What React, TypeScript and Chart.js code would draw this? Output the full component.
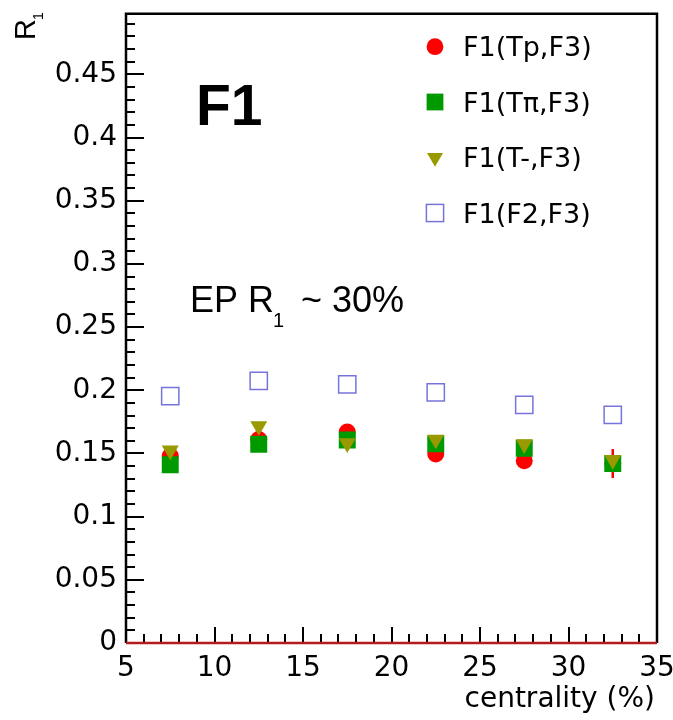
import React, { useEffect, useRef } from 'react';
import { Chart, registerables } from 'chart.js';

Chart.register(...registerables);

// ---- data ----
const centrality = [7.5, 12.5, 17.5, 22.5, 27.5, 32.5];
const tpValues = [0.148, 0.161, 0.167, 0.1495, 0.1442, 0.142];
const tpErrors = [0.004, 0.004, 0.004, 0.004, 0.004, 0.0115];
const tpiValues = [0.1411, 0.1572, 0.1606, 0.1576, 0.1542, 0.142];
const tminusValues = [0.1524, 0.1717, 0.1582, 0.161, 0.1574, 0.1449];
const f2Values = [0.1953, 0.2075, 0.2047, 0.1984, 0.1884, 0.1806];
const seriesLabels = ['F1(Tp,F3)', 'F1(T\u03c0,F3)', 'F1(T-,F3)', 'F1(F2,F3)'];
const xTicks = [5, 10, 15, 20, 25, 30, 35];
const yTicks = [0, 0.05, 0.1, 0.15, 0.2, 0.25, 0.3, 0.35, 0.4, 0.45];
const xTitle = 'centrality (%)';
const yTitle = 'R';
const yTitleSub = '1';
const panelLabel = 'F1';
const noteMain = 'EP R';
const noteSub = '1';
const noteTail = '~ 30%';

const RED = '#ff0000';
const GREEN = '#009a00';
const OLIVE = '#999900';
const BLUE = '#7474dc';
const TICK_FONT = "'DejaVu Sans'";

function drawMarker(ctx: CanvasRenderingContext2D, kind: number, x: number, y: number) {
  ctx.save();
  if (kind === 0) {
    ctx.fillStyle = RED;
    ctx.beginPath();
    ctx.arc(x, y, 8.4, 0, Math.PI * 2);
    ctx.fill();
  } else if (kind === 1) {
    ctx.fillStyle = GREEN;
    ctx.fillRect(x - 8.4, y - 8.4, 16.8, 16.8);
  } else if (kind === 2) {
    const r = 9.2;
    ctx.fillStyle = OLIVE;
    ctx.beginPath();
    ctx.moveTo(x - r * 0.866, y - r * 0.5);
    ctx.lineTo(x + r * 0.866, y - r * 0.5);
    ctx.lineTo(x, y + r);
    ctx.closePath();
    ctx.fill();
  } else {
    ctx.strokeStyle = BLUE;
    ctx.lineWidth = 1.5;
    ctx.strokeRect(x - 8.6, y - 8.6, 17.2, 17.2);
  }
  ctx.restore();
}

const decorPlugin = {
  id: 'decor',
  beforeDatasetsDraw(chart: any) {
    const ctx = chart.ctx as CanvasRenderingContext2D;
    const xs = chart.scales.x;
    const ys = chart.scales.y;
    ctx.save();
    ctx.strokeStyle = RED;
    ctx.lineWidth = 2.5;
    centrality.forEach((c, i) => {
      const px = xs.getPixelForValue(c);
      ctx.beginPath();
      ctx.moveTo(px, ys.getPixelForValue(tpValues[i] - tpErrors[i]));
      ctx.lineTo(px, ys.getPixelForValue(tpValues[i] + tpErrors[i]));
      ctx.stroke();
    });
    ctx.restore();
  },
  afterDraw(chart: any) {
    const ctx = chart.ctx as CanvasRenderingContext2D;
    const { left, right, top, bottom } = chart.chartArea;
    const xs = chart.scales.x;
    const ys = chart.scales.y;
    ctx.save();
    // inner ticks
    ctx.strokeStyle = '#000';
    ctx.lineWidth = 2;
    for (let k = 0; k <= 49; k++) {
      const v = k * 0.01;
      if (v > ys.max) break;
      const py = Math.round(ys.getPixelForValue(v));
      const len = k % 5 === 0 ? 18 : 9;
      ctx.beginPath();
      ctx.moveTo(left, py);
      ctx.lineTo(left + len, py);
      ctx.stroke();
    }
    for (let v = xs.min; v <= xs.max; v++) {
      const px = Math.round(xs.getPixelForValue(v));
      const len = v % 5 === 0 ? 16 : 9;
      ctx.beginPath();
      ctx.moveTo(px, bottom);
      ctx.lineTo(px, bottom - len);
      ctx.stroke();
    }
    // frame
    ctx.lineWidth = 2.5;
    ctx.beginPath();
    ctx.moveTo(left, bottom);
    ctx.lineTo(left, top);
    ctx.lineTo(right, top);
    ctx.lineTo(right, bottom);
    ctx.stroke();
    // red zero line
    ctx.strokeStyle = '#b21e1e';
    ctx.lineWidth = 2.5;
    const y0 = ys.getPixelForValue(0);
    ctx.beginPath();
    ctx.moveTo(left, y0);
    ctx.lineTo(right, y0);
    ctx.stroke();

    // legend
    const rowsY = [46.7, 102, 157.5, 213];
    seriesLabels.forEach((lab, i) => {
      drawMarker(ctx, i, 435, rowsY[i]);
      ctx.fillStyle = '#000';
      ctx.font = `27px ${TICK_FONT}`;
      ctx.textAlign = 'left';
      ctx.textBaseline = 'alphabetic';
      ctx.fillText(lab, 463, rowsY[i] + 9.6);
    });

    ctx.fillStyle = '#000';
    ctx.textBaseline = 'alphabetic';
    // panel label
    ctx.font = "bold 57px 'Liberation Sans'";
    ctx.textAlign = 'left';
    ctx.fillText(panelLabel, 196, 125);
    // note
    ctx.font = "36px 'Liberation Sans'";
    ctx.fillText(noteMain, 190, 311.7);
    ctx.font = "20px 'Liberation Sans'";
    ctx.fillText(noteSub, 273, 327);
    ctx.font = "36px 'Liberation Sans'";
    ctx.fillText(noteTail, 301, 311.7);

    // x title
    ctx.font = `28px ${TICK_FONT}`;
    ctx.textAlign = 'right';
    ctx.fillText(xTitle, 655, 707);

    // y title (rotated)
    ctx.translate(35, 40);
    ctx.rotate(-Math.PI / 2);
    ctx.textAlign = 'left';
    ctx.font = "29px 'Liberation Sans'";
    ctx.fillText(yTitle, 0, 0);
    ctx.font = "14px 'Liberation Sans'";
    ctx.fillText(yTitleSub, 20, 8);
    ctx.restore();
  },
};

function fmt(v: number) {
  return String(Number(v.toFixed(2)));
}

export default function App() {
  const ref = useRef<HTMLCanvasElement | null>(null);
  useEffect(() => {
    if (!ref.current) return;
    const mk = (vals: number[]) => centrality.map((x, i) => ({ x, y: vals[i] }));
    const chart = new Chart(ref.current, {
      type: 'scatter',
      data: {
        datasets: [
          {
            label: seriesLabels[0],
            data: mk(tpValues),
            pointStyle: 'circle',
            pointRadius: 8.5,
            pointBackgroundColor: RED,
            pointBorderColor: RED,
            pointBorderWidth: 0,
            order: 4,
          },
          {
            label: seriesLabels[1],
            data: mk(tpiValues),
            pointStyle: 'rect',
            pointRadius: 12,
            pointBackgroundColor: GREEN,
            pointBorderColor: GREEN,
            pointBorderWidth: 0,
            order: 3,
          },
          {
            label: seriesLabels[2],
            data: mk(tminusValues),
            pointStyle: 'triangle',
            pointRotation: 180,
            pointRadius: 9.8,
            pointBackgroundColor: OLIVE,
            pointBorderColor: OLIVE,
            pointBorderWidth: 0,
            order: 2,
          },
          {
            label: seriesLabels[3],
            data: mk(f2Values),
            pointStyle: 'rect',
            pointRadius: 12.2,
            pointBackgroundColor: 'rgba(0,0,0,0)',
            pointBorderColor: BLUE,
            pointBorderWidth: 1.5,
            order: 1,
          },
        ] as any,
      },
      options: {
        animation: false,
        responsive: false,
        devicePixelRatio: 1,
        events: [],
        layout: { padding: { top: 10, right: 16, left: 0, bottom: 0 } },
        plugins: { legend: { display: false }, tooltip: { enabled: false } },
        scales: {
          x: {
            type: 'linear',
            min: 5,
            max: 35,
            grid: { display: false, drawTicks: false },
            border: { display: false },
            ticks: {
              padding: 9,
              color: '#000',
              maxRotation: 0,
              autoSkip: false,
              font: { family: 'DejaVu Sans', size: 28 },
            },
            afterBuildTicks(s: any) {
              s.ticks = xTicks.map((v) => ({ value: v }));
            },
            afterFit(s: any) {
              s.height = 77;
              s.paddingLeft = 0;
              s.paddingRight = 0;
            },
          },
          y: {
            type: 'linear',
            min: 0,
            max: 0.498,
            grid: { display: false, drawTicks: false },
            border: { display: false },
            ticks: {
              padding: 9,
              color: '#000',
              autoSkip: false,
              font: { family: 'DejaVu Sans', size: 28 },
              callback: (v: any) => fmt(Number(v)),
            },
            afterBuildTicks(s: any) {
              s.ticks = yTicks.map((v) => ({ value: v }));
            },
            afterFit(s: any) {
              s.width = 126;
              s.paddingTop = 0;
              s.paddingBottom = 0;
            },
          },
        },
      } as any,
      plugins: [decorPlugin],
    });
    return () => chart.destroy();
  }, []);
  return (
    <div style={{ position: 'absolute', left: 0, top: 0, width: 673, height: 720, background: '#fff' }}>
      <canvas ref={ref} width={673} height={720} />
    </div>
  );
}
